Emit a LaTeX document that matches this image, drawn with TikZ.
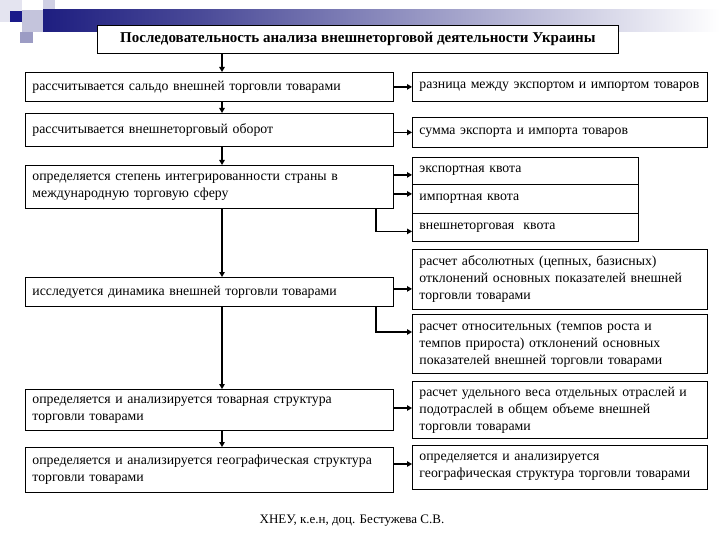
\documentclass[tikz,border=0pt]{standalone}
\usepackage{fontspec}
\setmainfont{Liberation Serif}
\usetikzlibrary{arrows.meta,calc}
\definecolor{hdrdark}{HTML}{1E1E80}
\definecolor{hdrmid}{HTML}{4A4A98}
\definecolor{sqa}{HTML}{E4E4F0}
\definecolor{sqb}{HTML}{D0D0E4}
\definecolor{sqc}{HTML}{C4C4DC}
\definecolor{sqd}{HTML}{9C9CC4}
\definecolor{sqe}{HTML}{1A1A8A}
\begin{document}
\begin{tikzpicture}[x=1pt,y=-1pt,
  box/.style={draw=black, line width=0.8pt, fill=white, inner xsep=7pt, inner ysep=1pt,
    align=left, anchor=north west, font=\fontsize{13.8}{17}\selectfont},
  lbox/.style={box, minimum width=368pt, text width=354pt},
  rbox/.style={box, minimum width=295pt, text width=281pt},
  qbox/.style={box, minimum width=226pt, text width=212pt},
  arr/.style={line width=1.5pt, -{Triangle[length=5pt,width=5.5pt]}}]
\useasboundingbox (0,0) rectangle (720,540);
% header decoration
\fill[sqa] (0,0) rectangle (22,22);
\fill[sqb] (43,0) rectangle (55,22);
\shade[left color=hdrdark, right color=hdrmid] (43,10) rectangle (200,32);
\shade[left color=hdrmid, right color=white] (200,10) rectangle (720,32);
\fill[sqc] (22,10) rectangle (43,32);
\fill[sqd] (20,32) rectangle (33,43);
\fill[sqe] (10,11) rectangle (22,22);
% title
\node[draw=black, line width=0.8pt, fill=white, minimum width=521pt, minimum height=28pt,
  anchor=north west, font=\fontsize{15}{18}\selectfont\bfseries] (T) at (97,25)
  {Последовательность анализа внешнеторговой деятельности Украины};
\coordinate (cx) at (222,0);
\coordinate (bx) at (376,0);
% left column
\node[lbox, minimum height=29pt] (L1) at (25,72) {рассчитывается сальдо внешней торговли товарами};
\node[lbox, minimum height=33pt] (L2) at (25,113) {рассчитывается внешнеторговый оборот};
\node[lbox, minimum height=43pt] (L3) at (25,165) {определяется степень интегрированности страны в\\международную торговую сферу};
\node[lbox, minimum height=29pt] (L4) at (25,277) {исследуется динамика внешней торговли товарами};
\node[lbox, minimum height=41pt] (L5) at (25,389) {определяется и анализируется товарная структура\\торговли товарами};
\node[lbox, minimum height=45pt] (L6) at (25,447) {определяется и анализируется географическая структура\\торговли товарами};
% right column
\node[rbox, minimum height=29pt] (R1) at (412,72) {разница между экспортом и импортом товаров};
\node[rbox, minimum height=30pt] (R2) at (412,117) {сумма экспорта и импорта товаров};
\node[qbox, minimum height=27pt] (R3a) at (412,157) {экспортная квота};
\node[qbox, minimum height=29pt] (R3b) at (412,184) {импортная квота};
\node[qbox, minimum height=28pt] (R3c) at (412,213) {внешнеторговая\ \ квота};
\node[rbox, minimum height=60pt] (R4a) at (412,249) {расчет абсолютных (цепных, базисных)\\отклонений основных показателей внешней\\торговли товарами};
\node[rbox, minimum height=59pt] (R4b) at (412,314) {расчет относительных (темпов роста и\\темпов прироста) отклонений основных\\показателей внешней торговли товарами};
\node[rbox, minimum height=57pt] (R5) at (412,381) {расчет удельного веса отдельных отраслей и\\подотраслей в общем объеме внешней\\торговли товарами};
\node[rbox, minimum height=44pt] (R6) at (412,445) {определяется и анализируется\\географическая структура торговли товарами};
% vertical chain
\draw[arr] (T.south -| cx) -- (L1.north -| cx);
\draw[arr] (L1.south -| cx) -- (L2.north -| cx);
\draw[arr] (L2.south -| cx) -- (L3.north -| cx);
\draw[arr] (L3.south -| cx) -- (L4.north -| cx);
\draw[arr] (L4.south -| cx) -- (L5.north -| cx);
\draw[arr] (L5.south -| cx) -- (L6.north -| cx);
% horizontal connectors
\draw[arr] (L1.east) -- (L1.east -| R1.west);
\draw[arr] (L2.east |- R2.west) -- (R2.west);
\draw[arr] ([yshift=-4pt]L3.east |- R3a.west) -- ([yshift=-4pt]R3a.west);
\draw[arr] ([yshift=5pt]L3.east |- R3b.west) -- ([yshift=5pt]R3b.west);
\draw[arr] (L3.south -| bx) |- ([yshift=-4pt]R3c.west);
\draw[arr] ([yshift=3pt]L4.east) -- ([yshift=3pt]L4.east -| R4a.west);
\draw[arr] (L4.south -| bx) |- ([yshift=-18pt]R4b.north west);
\draw[arr] (L5.east |- 0,408) -- (R5.west |- 0,408);
\draw[arr] (L6.east |- 0,464) -- (R6.west |- 0,464);
% footer
\node[font=\fontsize{13}{15}\selectfont] (F) at (352,521) {ХНЕУ, к.е.н, доц. Бестужева С.В.};
\end{tikzpicture}
\end{document}
